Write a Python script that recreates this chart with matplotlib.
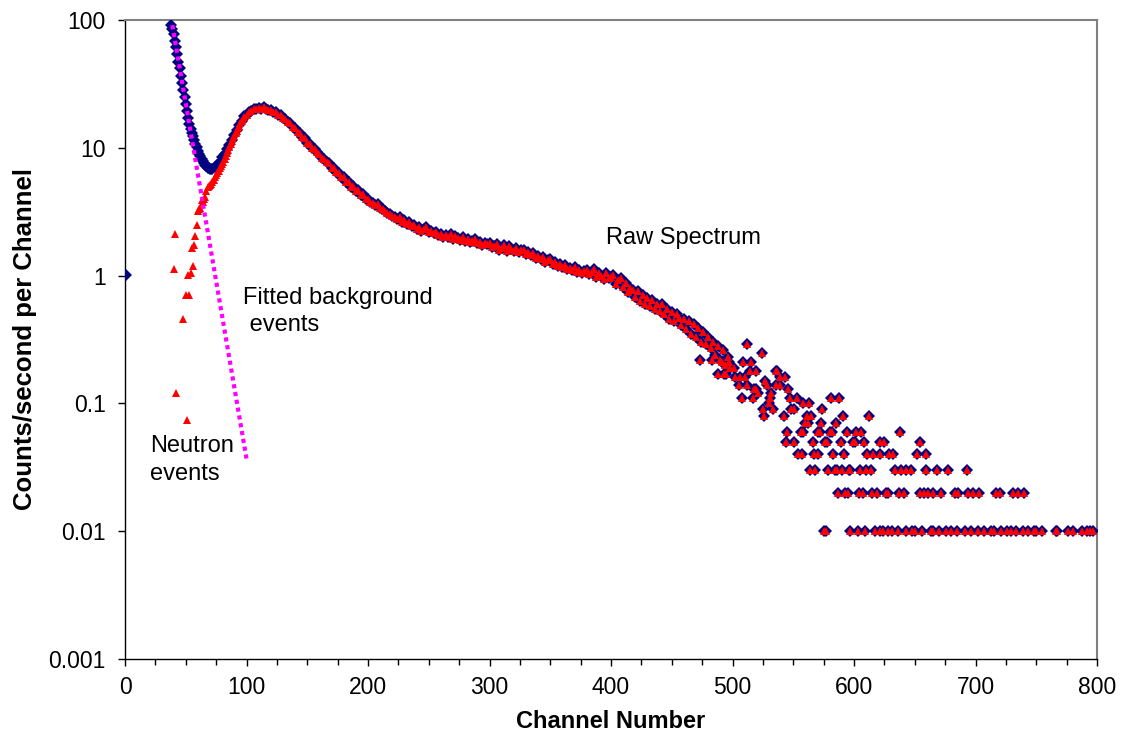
import matplotlib
matplotlib.use("Agg")
import matplotlib.pyplot as plt
import numpy as np

plt.rcParams.update({
    "font.family": ["Liberation Sans", "DejaVu Sans"],
    "font.size": 16,
})

# --- data ---
# raw spectrum, low channels (background dominated)
raw_low_ch = [1, 38, 39, 40, 41, 42, 43, 44, 45, 46, 47, 48, 49, 50, 51, 52, 53, 54, 55, 56,
              57, 58, 59, 60, 61, 62, 63, 64, 65, 66, 67, 68, 69, 70, 71, 72, 74, 76, 78,
              80, 82, 84, 86, 88, 90, 92, 94, 96, 98]
raw_low_val = [1.02, 91, 85, 78, 69, 61, 54, 47, 42, 36.5, 32, 28.4, 25, 22, 19.5, 17.2, 15.4,
               14.0, 13.0, 12.3, 11.5, 10.8, 10.2, 9.5, 9.0, 8.6, 8.2, 7.9, 7.6, 7.4, 7.2, 7.0,
               6.9, 6.85, 6.8, 6.85, 7.1, 7.4, 7.8, 8.4, 9.0, 9.8, 10.6, 11.6, 12.6, 13.7, 15.0,
               16.3, 17.6]

# neutron events (raw minus fitted background), low channels
neu_low_ch = [40, 41, 42, 48, 50, 51, 52, 53, 54, 55, 56, 57, 58, 59, 60, 61, 62, 63, 64, 65,
              66, 67, 68, 69, 70, 71, 72, 73, 74, 75, 76, 77, 78, 79, 80, 81, 82, 83, 84, 85,
              86, 87, 88, 89, 90, 91, 92, 93, 94, 95, 96, 97, 98]
neu_low_val = [1.12, 2.1, 0.12, 0.46, 0.71, 0.074, 1.02, 0.71, 1.04, 1.64, 1.19, 1.72, 2.04,
               2.49, 3.2, 3.3, 3.4, 3.9, 3.8, 4.0, 4.1, 4.6, 4.9, 5.0, 5.1, 5.2, 5.4, 5.6, 5.9,
               6.1, 6.3, 6.6, 6.9, 7.2, 7.5, 7.8, 8.2, 8.6, 9.1, 9.6, 10.1, 10.7, 11.3, 11.9,
               12.4, 13.0, 13.6, 14.3, 14.9, 15.6, 16.2, 16.9, 17.5]

# common spectrum (ch 100 - 498, every 2nd channel)
band_ch = list(range(100, 500, 2))
band_val = [
    18.1, 19.2, 19.4, 20.1, 20.0, 20.6, 20.3, 20.7, 20.2, 19.8,
    19.7, 19.0, 18.9, 18.1, 17.9, 17.0, 16.8, 15.8, 15.6, 14.6,
    14.3, 13.3, 13.1, 12.1, 11.9, 10.9, 10.8, 9.9, 9.8, 9.2,
    9.0, 8.3, 8.2, 7.7, 7.6, 7.0, 7.0, 6.5, 6.4, 5.9,
    5.9, 5.4, 5.4, 4.95, 5.0, 4.6, 4.65, 4.3, 4.35, 4.0,
    4.0, 3.8, 3.72, 3.55, 3.62, 3.38, 3.3, 3.22, 3.08, 3.02,
    2.95, 2.85, 2.75, 2.9, 2.65, 2.7, 2.55, 2.62, 2.44, 2.5,
    2.33, 2.42, 2.25, 2.3, 2.38, 2.18, 2.24, 2.14, 2.2, 2.06,
    2.12, 2.02, 2.08, 2.0, 2.1, 1.95, 2.04, 1.97, 1.9, 2.0,
    1.87, 1.95, 1.82, 1.88, 1.92, 1.79, 1.84, 1.72, 1.8, 1.76,
    1.8, 1.66, 1.7, 1.76, 1.6, 1.64, 1.73, 1.56, 1.69, 1.62,
    1.55, 1.64, 1.52, 1.58, 1.6, 1.47, 1.52, 1.44, 1.49, 1.38,
    1.42, 1.35, 1.39, 1.28, 1.33, 1.36, 1.24, 1.27, 1.19, 1.23,
    1.17, 1.22, 1.12, 1.15, 1.1, 1.16, 1.07, 1.11, 1.04, 1.09,
    1.1, 1.03, 1.06, 1.12, 0.98, 1.04, 1.0, 0.94, 1.05, 0.96,
    0.97, 1.02, 0.86, 0.92, 0.95, 0.82, 0.88, 0.74, 0.8, 0.77,
    0.68, 0.76, 0.63, 0.7, 0.6, 0.67, 0.58, 0.64, 0.55, 0.6,
    0.53, 0.6, 0.5, 0.55, 0.46, 0.52, 0.44, 0.5, 0.47, 0.41,
    0.46, 0.38, 0.44, 0.35, 0.42, 0.33, 0.39, 0.3, 0.36, 0.29,
    0.33, 0.27, 0.3, 0.24, 0.28, 0.22, 0.26, 0.2, 0.23, 0.19,
]

# scattered points 470 - 550
mid_ch = [473, 483, 488, 491, 493, 495, 497, 501, 502, 505, 506, 509, 510, 512, 512, 514, 515,
          518, 519, 519, 521, 524, 527, 528, 532, 536, 536, 537, 539, 539, 543, 546]
mid_val = [0.22, 0.22, 0.17, 0.21, 0.17, 0.17, 0.21, 0.19, 0.16, 0.14, 0.16, 0.21, 0.16, 0.29,
           0.14, 0.18, 0.21, 0.13, 0.18, 0.13, 0.12, 0.25, 0.15, 0.14, 0.12, 0.18, 0.14, 0.18,
           0.16, 0.14, 0.16, 0.13]

# high channels: counts/s come in steps of 0.01
tail_011 = [508, 517, 531, 547, 553, 581, 588]
tail_010 = [530, 558, 563]
tail_009 = [525, 533, 548, 551, 574]
tail_008 = [526, 542, 561, 565, 591, 612]
tail_007 = [560, 562, 573, 585]
tail_006 = [545, 556, 558, 570, 572, 580, 582, 594, 602, 606, 638]
tail_005 = [544, 551, 566, 576, 578, 589, 599, 601, 608, 621, 625, 654]
tail_004 = [554, 557, 567, 570, 583, 592, 611, 616, 621, 629, 632, 652, 659]
tail_003 = [564, 568, 579, 584, 586, 590, 596, 597, 605, 610, 614, 634, 639, 643, 647, 659,
            668, 677, 693]
tail_002 = [587, 593, 595, 604, 607, 615, 619, 626, 628, 637, 641, 654, 658, 661, 665, 672,
            683, 686, 694, 698, 703, 717, 720, 731, 735, 740]
tail_001 = [575, 577, 597, 603, 609, 617, 621, 624, 628, 631, 636, 643, 648, 650, 656, 663,
            665, 670, 676, 680, 685, 691, 696, 702, 707, 713, 715, 721, 726, 729, 733, 739,
            743, 748, 750, 755, 766, 767, 776, 780, 788, 792, 794, 797]

# fitted background (exponential -> straight on log axis)
bg_ch = [39, 100]
bg_val = [91, 0.037]

# --- assemble ---
tails = [(tail_011, 0.11), (tail_010, 0.10), (tail_009, 0.09), (tail_008, 0.08),
         (tail_007, 0.07), (tail_006, 0.06), (tail_005, 0.05), (tail_004, 0.04),
         (tail_003, 0.03), (tail_002, 0.02), (tail_001, 0.01)]
tail_ch = [c for lst, v in tails for c in lst]
tail_val = [v for lst, v in tails for c in lst]

common_ch = band_ch + mid_ch + tail_ch
common_val = band_val + mid_val + tail_val

raw_ch = raw_low_ch + common_ch
raw_val = raw_low_val + common_val
neu_ch = neu_low_ch + common_ch
neu_val = neu_low_val + common_val

# --- plot ---
fig = plt.figure(figsize=(11.22, 7.45), dpi=100)
ax = fig.add_axes([125 / 1122, 1 - 659 / 745, (1097 - 125) / 1122, (659 - 20) / 745])

ax.plot(raw_ch, raw_val, 'D', color='#000080', markersize=6, markeredgewidth=0, zorder=3)
ax.plot(neu_ch, neu_val, '^', color='#ff0000', markersize=5.5, markeredgewidth=0, zorder=4)
ax.plot(bg_ch, bg_val, color='#ff00ff', linewidth=3, linestyle=(0, (1, 0.9)),
        dash_capstyle='butt', zorder=5)

ax.set_yscale('log')
ax.set_xlim(0, 800)
ax.set_ylim(0.001, 100)
ax.set_xticks(np.arange(0, 801, 100))
ax.set_xticks(np.arange(0, 801, 25), minor=True)
ax.set_yticks([0.001, 0.01, 0.1, 1, 10, 100])
ax.set_yticklabels(['0.001', '0.01', '0.1', '1', '10', '100'])
ax.yaxis.set_minor_locator(matplotlib.ticker.NullLocator())
ax.tick_params(axis='both', which='major', direction='out', length=5, width=1,
               labelsize=16.5, colors='black')
ax.tick_params(axis='x', which='minor', direction='out', length=4, width=1)
ax.tick_params(axis='x', pad=7)
ax.tick_params(axis='y', pad=9)

for s in ['top', 'right']:
    ax.spines[s].set_color('#808080')
    ax.spines[s].set_linewidth(1.5)
for s in ['left', 'bottom']:
    ax.spines[s].set_color('black')
    ax.spines[s].set_linewidth(1)

ax.set_xlabel('Channel Number', fontsize=17, fontweight='bold', labelpad=8)
ax.set_ylabel('Counts/second per Channel', fontsize=18.5, fontweight='bold', labelpad=8)

ax.text(396, 1.97, 'Raw Spectrum', fontsize=17, va='center', ha='left')
ax.text(97, 0.52, 'Fitted background\n events', fontsize=17, va='center', ha='left',
        linespacing=1.3)
ax.text(20.5, 0.036, 'Neutron\nevents', fontsize=17, va='center', ha='left', linespacing=1.35)

fig.savefig('out.png', dpi=100)
